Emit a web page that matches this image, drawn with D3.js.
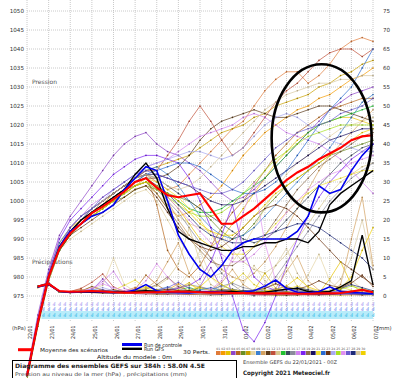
<!DOCTYPE html>
<html><head><meta charset="utf-8">
<script src="https://cdn.jsdelivr.net/npm/d3@7"></script>
<style>body{margin:0;background:#fff}svg{display:block}</style>
</head><body><svg id="c" width="400" height="378"></svg>
<script>
const hours = d3.range(0, 385, 12);
const precipHours = d3.range(12, 385, 12);
const dayHours = d3.range(0, 385, 24);
const dayLabels = ["22/01","23/01","24/01","25/01","26/01","27/01","28/01","29/01","30/01","31/01","01/02","02/02","03/02","04/02","05/02","06/02","07/02"];
const pressureTicks = d3.range(975, 1051, 5);
const precipTicks = d3.range(0, 76, 5);
const memberNames = d3.range(1, 31).map(d => String(d).padStart(2, "0"));
const memberColors = ["#e07b39","#f59b00","#e6c200","#8e44c8","#b5651d","#6b8e23","#c8a000","#e4d4a4","#3a7fd0","#d2a060","#5a3a1a","#c0503a","#d8c890","#20c030","#3c4a5c","#8a8a9a","#d080f0","#7a20f0","#8b6b4a","#1a1060","#f0e030","#2a6ad0","#6b3410","#a8a8f0","#a8e020","#e090f0","#6a5acd","#1e2a78","#d8c8a0","#f0d000"];

const memberPressure = [
[954,968,980,988,993,996,998,1000,1002,1004,1006,1007,1005,1003,1004,1007,1010,1013,1016,1019,1021,1025,1029,1032,1034,1034,1031,1033,1036,1040,1042,1043,1042],
[953,967,979,987,991,994,996,998,1000,1002,1004,1005,1002,998,996,997,999,1001,1004,1008,1012,1015,1018,1020,1022,1024,1025,1027,1028,1030,1032,1033,1035],
[954,969,981,989,993,995,997,999,1001,1003,1004,1006,1004,1001,998,994,990,988,990,994,998,1002,1006,1010,1013,1016,1018,1020,1021,1022,1022,1021,1020],
[955,970,982,991,996,1000,1004,1008,1012,1015,1017,1018,1015,1013,1012,1010,1008,1005,1002,1000,1001,1003,1006,1009,1012,1015,1018,1021,1024,1026,1028,1029,1030],
[954,968,980,988,992,995,998,1000,1002,1004,1006,1007,999,987,982,980,983,988,993,997,1000,1004,1008,1012,1015,1018,1020,1022,1024,1025,1026,1027,1027],
[953,967,979,987,991,994,996,998,1000,1001,1003,1004,1003,1002,1001,1000,998,995,992,990,991,994,998,1001,1004,1006,1008,1010,1012,1013,1014,1015,1016],
[954,968,980,988,992,995,997,999,1002,1004,1006,1008,1009,1010,1011,1012,1014,1016,1018,1019,1020,1022,1023,1025,1026,1027,1028,1030,1031,1033,1034,1036,1037],
[954,968,980,987,990,992,994,996,998,1000,1002,1003,1000,995,990,986,982,980,981,984,988,993,998,1003,1007,1010,1012,1015,1017,1019,1020,1021,1022],
[954,968,981,989,993,996,998,1000,1002,1004,1006,1008,1009,1007,1004,1000,996,993,991,990,991,993,996,999,1002,1005,1008,1011,1014,1018,1022,1026,1028],
[954,968,980,988,992,994,997,999,1001,1003,1005,1006,1004,1000,995,991,988,985,982,980,979,981,984,988,993,998,1003,1008,1012,1015,1018,1021,1024],
[954,968,980,988,992,995,997,999,1001,1003,1005,1006,1006,1007,1009,1012,1016,1019,1021,1022,1023,1024,1023,1022,1022,1023,1024,1025,1025,1024,1023,1022,1021],
[954,968,980,988,992,995,997,1000,1002,1004,1006,1008,1008,1012,1016,1021,1025,1021,1016,1012,1014,1018,1022,1026,1029,1031,1034,1037,1039,1040,1040,1038,1040],
[954,968,980,988,991,994,996,998,1000,1002,1003,1004,1002,999,996,994,993,992,990,987,984,982,981,983,986,990,994,998,1002,1005,1007,1009,1010],
[954,968,980,987,991,994,996,998,1000,1002,1004,1005,1004,1002,1000,998,997,997,998,1000,1002,1004,1006,1009,1012,1015,1018,1020,1021,1022,1023,1024,1025],
[954,968,980,988,992,995,997,999,1001,1003,1005,1007,1006,1004,1002,1000,998,996,994,992,990,989,990,992,995,998,1001,1004,1007,1010,1012,1014,1015],
[954,968,980,988,992,995,997,999,1001,1003,1004,1005,1003,1000,997,993,989,985,981,978,976,975,977,980,984,988,992,996,1000,1003,1006,1008,1010],
[954,968,980,988,993,996,999,1001,1003,1005,1007,1009,1010,1011,1013,1015,1017,1018,1019,1020,1022,1023,1022,1020,1018,1017,1016,1015,1013,1011,1008,1005,1002],
[954,969,981,990,995,998,1001,1004,1007,1009,1011,1012,1012,1011,1010,1006,1000,993,985,975,966,963,968,975,983,990,996,1001,1005,1008,1011,1013,1015],
[954,968,980,988,992,994,996,998,1000,1002,1004,1005,1002,998,994,990,987,984,983,983,985,988,991,995,999,1003,1006,1009,1011,1013,1015,1017,1018],
[954,968,980,988,992,995,998,1000,1002,1004,1006,1007,1007,1006,1005,1004,1002,1000,999,999,1000,1002,1004,1006,1008,1010,1012,1014,1016,1017,1018,1019,1019],
[954,968,980,988,992,995,997,999,1001,1003,1005,1006,1005,1003,1001,998,995,991,988,986,986,988,991,994,997,1000,1002,1004,1005,1006,1007,1008,1008],
[954,968,980,988,992,995,997,999,1001,1003,1005,1007,1008,1009,1010,1010,1009,1007,1005,1003,1002,1002,1003,1005,1008,1012,1016,1020,1024,1027,1030,1035,1040],
[954,968,980,987,991,993,995,997,999,1001,1003,1004,1001,997,993,990,988,987,988,990,993,996,998,999,998,996,993,990,987,984,982,980,978],
[954,968,980,988,992,995,998,1000,1003,1005,1007,1009,1010,1011,1012,1013,1013,1012,1011,1012,1014,1017,1020,1022,1023,1022,1020,1018,1016,1015,1014,1013,1013],
[954,968,980,988,992,994,996,998,1000,1002,1004,1005,1003,1001,999,997,996,996,997,999,1002,1005,1008,1011,1013,1015,1017,1018,1019,1020,1020,1020,1020],
[954,968,980,988,992,995,997,999,1001,1003,1005,1006,1004,1001,998,995,992,989,986,984,984,986,989,993,997,1000,1003,1005,1007,1008,1010,1011,1012],
[954,968,980,988,993,996,998,1001,1003,1005,1007,1008,1007,1006,1005,1004,1003,1002,1002,1003,1005,1008,1011,1014,1016,1018,1019,1020,1021,1023,1024,1025,1027],
[954,968,980,988,992,995,997,999,1001,1003,1005,1006,1004,1002,999,996,993,991,990,989,989,990,991,992,993,994,994,993,991,989,987,985,982],
[954,968,980,988,992,995,997,1000,1002,1004,1006,1007,1006,1004,1003,1004,1006,1009,1012,1015,1018,1021,1024,1026,1028,1029,1030,1031,1031,1032,1032,1033,1033],
[954,968,980,988,992,994,996,998,1000,1002,1004,1005,1004,1002,1000,997,994,992,991,991,993,996,999,1002,1004,1006,1008,1010,1012,1014,1016,1018,1019]
];

const memberPrecip = [
[2.4,3.2,1.0,1.2,1.8,1.0,0.8,0.6,1.4,2.2,1.0,0.6,0.5,0.8,1.2,0.7,0.5,0.4,0.6,0.5,0.4,0.3,0.5,0.4,0.6,0.3,0.4,0.5,0.6,0.8,0.5,0.4],
[2.2,3.5,1.3,0.9,1.2,2.5,1.4,0.9,0.7,0.8,0.9,1.2,1.6,3.2,1.0,0.6,0.5,0.7,0.9,0.6,0.4,0.6,0.8,0.5,0.3,0.4,0.6,0.5,0.7,1.0,0.6,0.5],
[2.6,3.0,1.1,1.0,0.9,1.1,1.3,1.0,0.8,0.7,1.0,0.9,1.4,2.0,3.5,1.2,0.8,0.6,0.5,0.7,1.5,6.0,2.0,1.0,0.6,0.5,0.8,4.5,9.0,3.0,1.0,0.6],
[2.5,3.3,1.2,0.8,1.0,1.5,4.5,1.5,0.9,0.6,0.5,0.5,0.6,0.8,0.7,2.5,7.5,2.0,0.8,0.6,0.4,0.3,0.4,0.5,0.4,0.6,0.5,0.4,0.5,0.6,0.7,0.5],
[2.3,2.9,1.0,1.1,1.3,0.9,0.8,1.0,1.2,1.8,5.5,3.0,1.2,0.9,0.8,0.6,0.7,0.5,0.4,0.5,0.6,0.7,0.5,0.4,0.3,0.5,0.6,0.5,0.4,0.6,0.5,0.4],
[2.4,3.1,1.2,1.0,1.1,1.0,0.9,0.8,0.9,1.0,1.1,0.8,0.7,0.9,1.3,2.2,1.4,0.8,0.6,0.5,0.4,0.5,0.6,0.5,0.7,0.6,0.4,0.5,0.8,1.2,0.9,0.6],
[2.5,3.4,1.1,0.9,1.0,1.2,1.1,0.9,0.8,0.7,0.6,0.5,0.6,0.5,0.4,0.5,0.4,0.3,0.4,0.5,0.4,0.3,0.2,0.3,0.4,0.3,0.4,0.3,0.2,0.3,0.4,0.3],
[2.6,3.6,1.3,1.0,1.2,1.6,2.8,10.0,3.0,1.2,0.9,1.0,1.4,2.5,6.0,12.0,5.0,2.0,1.0,3.0,8.0,4.0,1.5,1.0,2.0,5.5,11.0,4.0,1.5,1.0,0.8,0.6],
[2.4,3.2,1.0,0.9,1.3,1.8,1.2,0.8,0.7,0.9,1.1,1.6,2.4,1.4,1.0,0.8,1.2,2.8,1.6,0.9,0.7,0.6,0.5,0.7,0.9,1.2,0.8,0.6,0.5,0.7,0.9,0.6],
[2.3,3.0,1.2,1.0,1.1,1.3,1.5,1.2,1.0,1.4,2.0,4.0,9.0,14.0,6.0,2.5,1.5,3.5,7.0,3.0,1.2,0.9,2.0,6.5,10.5,4.0,1.5,1.0,3.0,15.0,26.0,8.0],
[2.5,3.3,1.1,1.0,1.0,0.9,1.0,1.1,0.9,0.8,0.7,0.6,0.5,0.5,0.4,0.4,0.3,0.4,0.5,0.4,0.3,0.4,0.3,0.2,0.3,0.4,0.3,0.4,0.5,0.4,0.3,0.4],
[2.4,3.1,1.2,1.2,2.0,3.6,5.8,2.4,1.2,0.9,0.8,1.0,0.9,0.7,0.5,0.4,0.5,0.6,0.5,0.4,0.5,0.6,0.5,0.4,0.5,0.4,0.3,0.4,0.5,0.4,0.3,0.4],
[2.6,3.4,1.0,0.9,1.2,1.4,1.1,0.9,1.0,1.3,1.8,2.6,4.5,8.5,18.0,9.0,3.0,1.5,1.0,0.8,1.2,2.0,3.5,7.5,2.5,1.2,1.0,0.8,1.5,4.0,2.0,1.0],
[2.4,3.0,1.2,1.1,1.4,1.2,1.0,0.9,0.8,0.9,1.2,1.0,0.8,1.5,2.3,1.2,0.8,0.6,0.7,1.1,0.9,0.6,0.5,0.6,0.8,0.7,0.6,0.5,0.8,1.3,1.6,1.0],
[2.5,3.2,1.1,1.0,0.9,1.0,1.2,1.4,1.1,0.9,0.8,1.0,1.3,1.1,0.9,0.8,1.0,1.4,1.8,1.2,1.0,0.8,0.7,0.8,1.0,0.9,0.7,0.6,0.8,1.0,0.9,0.7],
[2.4,3.1,1.2,1.0,1.1,1.2,1.4,1.0,0.9,1.2,1.5,1.3,1.6,2.2,3.0,2.4,1.8,2.6,3.4,2.2,1.6,1.4,1.8,2.6,1.5,1.0,0.8,0.9,1.2,1.0,0.8,0.6],
[2.5,3.3,1.3,1.0,1.1,1.9,3.8,6.5,2.0,1.0,0.8,0.7,0.6,0.5,0.6,0.7,0.5,0.4,0.5,0.6,0.4,0.3,0.4,0.5,0.4,0.3,0.4,0.5,0.4,0.5,0.6,0.4],
[2.6,3.5,1.2,1.0,1.2,1.4,1.1,1.0,0.9,0.8,0.9,1.1,1.4,2.0,2.8,4.5,9.0,16.0,24.0,12.0,5.0,2.5,1.5,1.0,0.8,0.7,0.6,0.8,1.0,0.9,0.7,0.6],
[2.3,3.0,1.1,1.0,1.3,2.5,1.6,1.0,0.9,1.2,1.8,3.0,5.0,2.5,1.2,0.9,0.8,1.0,1.4,1.0,0.8,0.7,0.9,1.2,1.0,0.8,0.6,0.7,0.9,0.8,0.6,0.5],
[2.5,3.2,1.2,1.0,1.0,1.1,1.2,1.3,1.1,1.0,0.9,0.8,0.7,0.8,0.9,0.7,0.6,0.5,0.6,0.7,0.6,0.5,0.6,0.7,0.6,0.5,0.4,0.5,0.6,0.7,0.5,0.4],
[2.4,3.1,1.0,0.9,1.1,1.0,1.2,1.5,2.8,4.2,2.0,1.2,1.0,1.6,3.0,2.0,1.4,1.8,3.6,6.0,3.0,1.6,1.2,1.8,2.6,1.6,1.0,1.4,2.4,1.5,1.0,0.8],
[2.5,3.3,1.2,1.0,1.2,1.3,1.1,0.9,1.0,1.2,1.4,1.2,1.0,0.9,1.2,1.6,2.2,1.4,1.0,0.8,0.9,1.2,1.0,0.8,0.7,0.6,0.5,0.6,0.7,0.6,0.5,0.4],
[2.4,3.0,1.1,1.0,1.1,1.2,1.4,1.6,1.2,1.0,1.2,1.5,1.8,1.4,1.2,1.0,1.2,1.6,1.4,1.2,1.4,2.0,3.2,2.2,1.8,2.6,4.0,2.8,2.2,3.4,5.5,2.5],
[2.6,3.4,1.3,1.1,1.2,1.5,2.2,1.4,1.0,0.9,0.8,0.9,1.0,0.8,0.7,0.6,0.7,0.8,0.7,0.6,0.5,0.6,0.7,0.6,0.5,0.6,0.7,0.6,0.8,1.0,0.8,0.6],
[2.5,3.1,1.1,1.0,1.1,1.2,1.0,0.9,0.8,1.0,1.2,1.1,0.9,1.2,1.6,1.2,1.0,0.9,1.1,1.4,1.2,1.0,0.9,1.0,1.3,1.1,0.9,1.2,1.8,2.6,1.8,1.2],
[2.4,3.2,1.2,1.0,1.3,2.0,3.2,2.2,1.4,1.6,4.0,8.5,5.0,2.0,1.2,1.0,1.8,4.0,10.0,22.0,30.0,14.0,4.0,1.5,1.0,0.8,0.9,1.2,1.0,0.8,0.7,0.6],
[2.5,3.3,1.1,1.0,1.1,1.3,1.6,1.2,1.0,0.9,1.0,1.4,2.2,3.6,2.0,1.2,1.0,0.9,1.1,1.4,1.2,1.0,1.3,2.0,1.4,1.0,0.8,1.0,1.4,1.2,0.9,0.7],
[2.4,3.0,1.2,1.0,1.0,1.1,1.2,1.0,0.9,1.0,1.1,1.2,1.0,0.9,1.1,1.3,1.1,1.0,1.2,1.5,1.2,1.0,1.2,1.6,2.2,1.6,1.2,1.4,2.0,3.0,2.2,1.4],
[2.6,3.4,1.2,1.0,1.1,1.2,1.0,0.9,0.8,0.7,0.8,0.9,0.8,0.7,0.6,0.5,0.6,0.7,0.6,0.5,1.0,3.0,8.0,12.5,6.0,2.0,1.2,1.5,4.5,10.0,20.0,7.0],
[2.5,3.2,1.1,1.0,1.2,1.4,1.2,1.0,1.1,1.5,2.4,1.6,1.2,1.0,1.4,2.4,5.0,3.0,1.6,1.2,1.0,1.2,1.6,2.6,4.8,2.4,1.4,1.2,2.0,5.0,12.0,18.0]
];

const meanPressure = [954,968,980,987.5,991.5,994,996.8,998.5,1000.5,1002.5,1005,1006,1003.5,1001.5,1001,1001.5,1002,998,994,994,996,998,1000.5,1003,1005.5,1007.5,1009,1011,1012.5,1014,1016,1017,1017.3];
const meanPrecip = [2.5,3.2,1.3,1.1,1.2,1.3,1.2,1.0,0.9,0.9,1.0,1.0,1.1,1.2,1.1,1.0,0.9,0.9,0.8,0.8,0.7,0.7,0.7,0.7,0.6,0.6,0.7,0.7,0.8,1.2,1.6,1.0];
const controlPressure = [954,968,980,988,992,994,996,997,999,1003,1006,1009,1008,1000,991,986,982,980,983,987,989,990,990,990,990,992,996,1004,1002,1003,1008,1012,1015];
const controlPrecip = [2.4,3.1,1.2,1.0,1.1,1.2,1.0,0.9,1.0,1.6,3.0,1.4,1.0,0.9,0.8,1.0,1.2,1.0,0.8,1.0,1.4,2.6,4.2,2.0,1.0,0.8,1.2,2.4,1.2,0.9,0.8,0.6];
const gfsPressure = [954,968,980,988,992,995,997,999,1001,1003,1007,1010,1006,998,992,990,989,988,987,987,988,988,989,989,990,990,989,992,999,1002,1004,1006,1008];
const gfsPrecip = [2.5,3.3,1.2,1.0,1.1,1.0,0.9,1.0,1.1,1.2,1.4,1.2,1.0,1.1,1.3,1.0,0.9,1.0,1.2,1.0,0.8,1.0,1.4,1.8,2.0,1.2,1.0,1.2,2.4,4.0,16.0,3.0];

// annotation ellipse (in data units)
const ellipseCenter = {h: 327, p: 1016.5}, ellipseHalfHours = 55.5, ellipseHalfHpa = 19.5;

const svg = d3.select("#c");
const x = d3.scaleLinear().domain([0, 384]).range([27, 373]);
const yP = d3.scaleLinear().domain([975, 1050]).range([296, 11]);
const yR = d3.scaleLinear().domain([0, 75]).range([296, 11]);
const font = "'DejaVu Sans', sans-serif";

// grid
const g = svg.append("g");
g.selectAll(".hg").data(pressureTicks).join("line")
  .attr("x1", x(0)).attr("x2", x(384)).attr("y1", d => yP(d)).attr("y2", d => yP(d))
  .attr("stroke", "#bdbdbd").attr("stroke-width", 0.8).attr("stroke-dasharray", "1,1");
g.selectAll(".vg").data(dayHours).join("line")
  .attr("x1", d => x(d)).attr("x2", d => x(d)).attr("y1", 0).attr("y2", 322)
  .attr("stroke", "#bdbdbd").attr("stroke-width", 0.8).attr("stroke-dasharray", "1,1");

// axes
const ax = svg.append("g").attr("transform", `translate(${x(0)},0)`)
  .call(d3.axisLeft(yP).tickValues(pressureTicks).tickSize(0).tickPadding(3).tickFormat(d3.format("d")));
ax.select(".domain").remove();
ax.selectAll("text").attr("font-family", font).attr("font-size", 5.6).attr("fill", "#333");
const ar = svg.append("g").attr("transform", `translate(381,0)`)
  .call(d3.axisRight(yR).tickValues(precipTicks).tickSize(0).tickPadding(2).tickFormat(d3.format("d")));
ar.select(".domain").remove();
ar.selectAll("text").attr("font-family", font).attr("font-size", 5.6).attr("fill", "#333");

// date labels
svg.append("g").selectAll("text").data(dayHours).join("text")
  .attr("transform", (d) => `translate(${x(d) + 5},339) rotate(-90)`)
  .attr("font-family", font).attr("font-size", 5.6).attr("fill", "#333")
  .attr("textLength", 13.5).attr("lengthAdjust", "spacingAndGlyphs")
  .text((d, i) => dayLabels[i]);
svg.append("text").attr("x", 12).attr("y", 330).attr("font-family", font).attr("font-size", 5.4).attr("fill", "#333").text("(hPa)");
svg.append("text").attr("x", 377).attr("y", 330).attr("font-family", font).attr("font-size", 5.4).attr("fill", "#333").text("(mm)");
svg.append("text").attr("x", 32).attr("y", 84).attr("font-family", font).attr("font-size", 6).attr("fill", "#555").text("Pression");
svg.append("text").attr("x", 32).attr("y", 264).attr("font-family", font).attr("font-size", 6).attr("fill", "#555").text("Précipitations");

// cyan probability band
const bandHours = d3.range(18, 385, 6);
svg.append("rect").attr("x", x(16)).attr("y", 311).attr("width", x(384) - x(16)).attr("height", 8).attr("fill", "#b8ecfa");
const band = svg.append("g").attr("font-family", font).attr("font-style", "italic").attr("font-size", 5);
band.selectAll(".r1").data(bandHours).join("text").attr("x", d => x(d) - 1.5).attr("y", 306).attr("fill", "#a898f0").text("4");
band.selectAll(".r2").data(bandHours).join("text").attr("x", d => x(d) - 1.5).attr("y", 311).attr("fill", "#6f8cf0").text("4");
band.selectAll(".r3").data(bandHours).join("text").attr("x", d => x(d) - 1.5).attr("y", 317).attr("fill", "#40bce8").text("4");

const lineP = d3.line().x((d, i) => x(hours[i])).y(d => yP(d));
const lineR = d3.line().x((d, i) => x(precipHours[i])).y(d => yR(d));

// members
const mg = svg.append("g");
memberPressure.forEach((s, k) => {
  mg.append("path").attr("d", lineP(s)).attr("fill", "none").attr("stroke", memberColors[k]).attr("stroke-width", 0.7);
  mg.append("g").selectAll("circle").data(s).join("circle")
    .attr("cx", (d, i) => x(hours[i])).attr("cy", d => yP(d)).attr("r", 0.8)
    .attr("fill", d3.color(memberColors[k]).darker(0.6));
});
memberPrecip.forEach((s, k) => {
  mg.append("path").attr("d", lineR(s)).attr("fill", "none").attr("stroke", memberColors[k]).attr("stroke-width", 0.7);
  mg.append("g").selectAll("circle").data(s).join("circle")
    .attr("cx", (d, i) => x(precipHours[i])).attr("cy", d => yR(d)).attr("r", 0.8)
    .attr("fill", d3.color(memberColors[k]).darker(0.6));
});

// control, GFS, mean
svg.append("path").attr("d", lineR(gfsPrecip)).attr("fill", "none").attr("stroke", "#000").attr("stroke-width", 1.4);
svg.append("path").attr("d", lineR(controlPrecip)).attr("fill", "none").attr("stroke", "#0000ee").attr("stroke-width", 1.6);
svg.append("path").attr("d", lineR(meanPrecip)).attr("fill", "none").attr("stroke", "#ff0000").attr("stroke-width", 2.1);
svg.append("path").attr("d", lineP(gfsPressure)).attr("fill", "none").attr("stroke", "#000").attr("stroke-width", 1.4);
svg.append("path").attr("d", lineP(controlPressure)).attr("fill", "none").attr("stroke", "#0000ee").attr("stroke-width", 1.6);
svg.append("path").attr("d", lineP(meanPressure)).attr("fill", "none").attr("stroke", "#ff0000").attr("stroke-width", 2.1);

// annotation ellipse
svg.append("ellipse")
  .attr("cx", x(ellipseCenter.h)).attr("cy", yP(ellipseCenter.p))
  .attr("rx", x(ellipseCenter.h + ellipseHalfHours) - x(ellipseCenter.h))
  .attr("ry", yP(ellipseCenter.p - ellipseHalfHpa) - yP(ellipseCenter.p))
  .attr("fill", "none").attr("stroke", "#000").attr("stroke-width", 2.6);

// legend
const lg = svg.append("g").attr("font-family", font).attr("fill", "#222");
lg.append("line").attr("x1", 18).attr("x2", 33).attr("y1", 349.7).attr("y2", 349.7).attr("stroke", "#ff0000").attr("stroke-width", 3);
lg.append("text").attr("x", 40).attr("y", 351.8).attr("font-size", 5.4).attr("textLength", 68).attr("lengthAdjust", "spacingAndGlyphs").text("Moyenne des scénarios");
lg.append("line").attr("x1", 122).attr("x2", 142).attr("y1", 344.5).attr("y2", 344.5).attr("stroke", "#0000ee").attr("stroke-width", 3);
lg.append("text").attr("x", 144).attr("y", 346.5).attr("font-size", 5.4).attr("textLength", 38).attr("lengthAdjust", "spacingAndGlyphs").text("Run de controle");
lg.append("line").attr("x1", 122).attr("x2", 142).attr("y1", 348.8).attr("y2", 348.8).attr("stroke", "#000").attr("stroke-width", 2.4);
lg.append("text").attr("x", 144).attr("y", 351).attr("font-size", 5.4).attr("textLength", 20).attr("lengthAdjust", "spacingAndGlyphs").text("Run GFS");
lg.append("text").attr("x", 183).attr("y", 354).attr("font-size", 5.4).attr("textLength", 27).attr("lengthAdjust", "spacingAndGlyphs").text("30 Perts.");
lg.append("text").attr("x", 97).attr("y", 358.6).attr("font-size", 5.4).attr("textLength", 75).attr("lengthAdjust", "spacingAndGlyphs").text("Altitude du modele : 0m");
const sw = lg.append("g");
sw.selectAll("rect").data(memberColors).join("rect")
  .attr("x", (d, i) => 216 + i * 5).attr("y", 351).attr("width", 4.6).attr("height", 4).attr("fill", d => d);
sw.selectAll("text").data(memberNames).join("text")
  .attr("x", (d, i) => 218.3 + i * 5).attr("y", 349.6).attr("text-anchor", "middle")
  .attr("font-size", 3.2).attr("fill", "#555").text(d => d);

lg.append("rect").attr("x", 12.5).attr("y", 360.5).attr("width", 224).attr("height", 20).attr("fill", "none").attr("stroke", "#000").attr("stroke-width", 1);
lg.append("text").attr("x", 15).attr("y", 367.8).attr("font-size", 6).attr("font-weight", "bold").attr("textLength", 190).attr("lengthAdjust", "spacingAndGlyphs").text("Diagramme des ensembles GEFS sur 384h : 58.0N 4.5E");
lg.append("text").attr("x", 15).attr("y", 375.5).attr("font-size", 5).attr("fill", "#444").attr("textLength", 172).attr("lengthAdjust", "spacingAndGlyphs").text("Pression au niveau de la mer (hPa) , précipitations (mm)");
lg.append("text").attr("x", 243).attr("y", 364).attr("font-size", 5).attr("fill", "#444").attr("textLength", 94).attr("lengthAdjust", "spacingAndGlyphs").text("Ensemble GEFS du 22/01/2021 - 00Z");
lg.append("text").attr("x", 243).attr("y", 374.5).attr("font-size", 6).attr("font-weight", "bold").attr("textLength", 87).attr("lengthAdjust", "spacingAndGlyphs").text("Copyright 2021 Meteociel.fr");
</script></body></html>
